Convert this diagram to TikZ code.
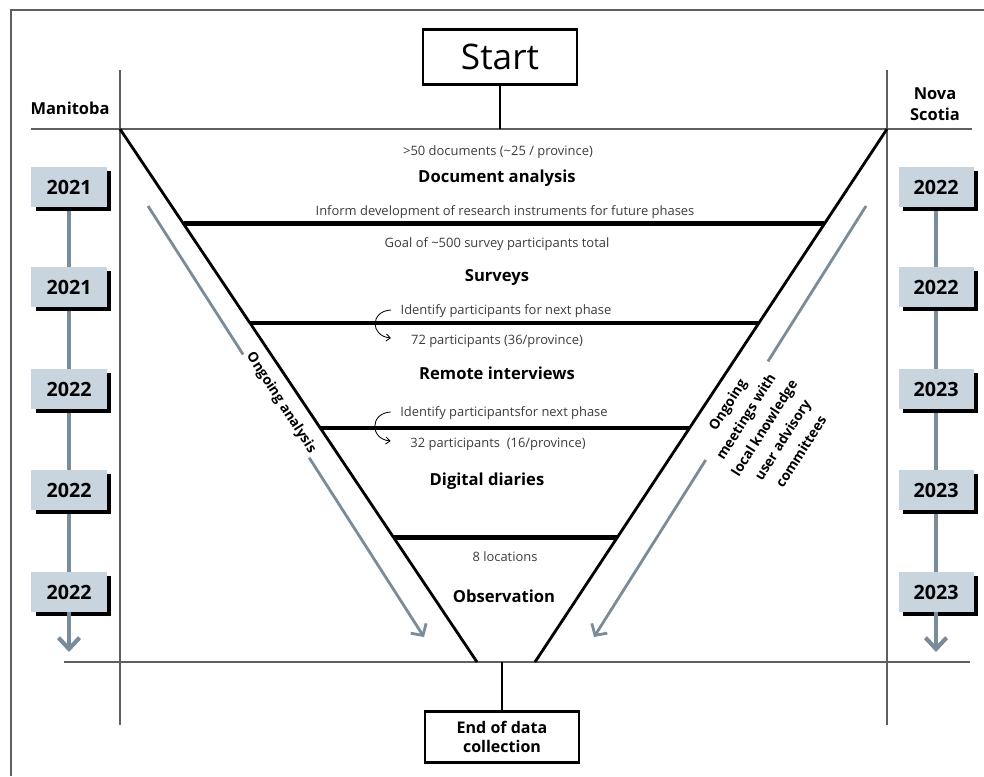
\documentclass[tikz,border=0pt]{standalone}
\usepackage{fontspec}
\setmainfont{Open Sans}
\usepackage{xcolor}
\usepackage{tikz}
\usetikzlibrary{arrows.meta,positioning,shadows,calc,backgrounds}
\definecolor{railgray}{RGB}{122,140,153}
\definecolor{yearfill}{RGB}{200,212,222}
\definecolor{rulegray}{RGB}{95,95,95}
\definecolor{notegray}{RGB}{60,60,60}

\begin{document}
\begin{tikzpicture}[
  x=0.025cm, y=-0.025cm,
  note/.style={font=\fontsize{9.2}{11}\selectfont, text=notegray, inner sep=1pt},
  phase/.style={font=\bfseries\fontsize{11.8}{14}\selectfont, inner sep=1pt},
  head/.style={font=\bfseries\fontsize{11.7}{15}\selectfont, align=center},
  yearbox/.style={fill=yearfill, minimum width=1.875cm, minimum height=1cm, inner sep=0pt,
    font=\bfseries\fontsize{14}{16}\selectfont,
    drop shadow={shadow xshift=3pt, shadow yshift=-3pt, fill=black, opacity=1}},
  termbox/.style={draw=black, line width=1.5pt, fill=white, minimum width=3.85cm, align=center, inner sep=2pt},
  lab/.style={font=\bfseries\fontsize{9.8}{15.5}\selectfont, fill=white, align=center, inner sep=2pt},
  grid/.style={rulegray, line width=1pt},
  edge/.style={black, line width=2pt},
  divider/.style={black, line width=3.5pt},
  stem/.style={black, line width=1.5pt},
  railline/.style={railgray, line width=3pt},
  flow/.style={railgray, line width=2pt, -{Straight Barb[length=6pt, width=13pt]}},
  hook/.style={black, line width=0.6pt, -{Straight Barb[length=3pt, width=5pt]}},
]
\useasboundingbox (0,0) rectangle (984,776);
% frame and grid
\draw[grid] (11,776) |- (984,10);
\coordinate (tl) at (120,129);
\coordinate (tr) at (887,129);
\coordinate (bl) at (477,662);
\coordinate (br) at (535,662);
\draw[grid] (31,129) -- (972,129);
\draw[grid] (64,662) -- (970,662);
\draw[grid] (120,70) -- (120,725);
\draw[grid] (887,70) -- (887,725);
% provinces
\node[head] (mani) at (70,108) {Manitoba};
\node[head] (nova) at (935,104) {Nova\\Scotia};
% timelines
\foreach \i/\yy/\my/\ny in {1/187/2021/2022, 2/287/2021/2022, 3/389/2022/2023, 4/490/2022/2023, 5/592/2022/2023}{
  \node[yearbox] (mb\i) at (69,\yy) {\my};
  \node[yearbox] (ns\i) at (936,\yy) {\ny};
}
\coordinate (mend) at (69,652);
\coordinate (nend) at (936,652);
\begin{scope}[on background layer]
  \draw[railline] (mb1) -- (mb5);
  \draw[railline] (ns1) -- (ns5);
\end{scope}
\draw[railline, -{Straight Barb[length=8pt, width=15pt]}] (mb5.south) -- (mend);
\draw[railline, -{Straight Barb[length=8pt, width=15pt]}] (ns5.south) -- (nend);
% ongoing work along the funnel
\coordinate (la1) at (148,206);
\coordinate (la2) at (424,637);
\coordinate (ra1) at (866,206);
\coordinate (ra2) at (594,637);
\draw[flow] (la1) -- (la2);
\draw[flow] (ra1) -- (ra2);
\node[lab, rotate=-57.3] (ongo) at (281,403) {Ongoing analysis};
\node[lab, rotate=57.6] (meet) at (764,428) {Ongoing\\meetings with\\local knowledge\\user advisory\\committees};
% funnel
\draw[edge] (tl) -- (bl);
\draw[edge] (tr) -- (br);
\foreach \f in {0.178,0.364,0.561,0.767}
  \draw[divider] ($(tl)!\f!(bl)$) -- ($(tr)!\f!(br)$);
% start and end
\node[termbox, minimum height=1.375cm, font=\fontsize{25}{27}\selectfont] (start) at (500,57) {Start};
\node[termbox, minimum height=1.275cm, font=\bfseries\fontsize{11.4}{14}\selectfont] (finish) at (502,737) {End of data\\collection};
\draw[stem] (start.south) -- (start.south |- tl);
\draw[stem] (finish.north) -- (finish.north |- bl);
% phases
\node[note] (docs) at (498,152) {>50 documents (\textasciitilde25 / province)};
\node[phase] (docan) at (497,178) {Document analysis};
\node[note] (inform) at (505,212) {Inform development of research instruments for future phases};
\node[note] (goal) at (497,244) {Goal of \textasciitilde500 survey participants total};
\node[phase] (surv) at (497,277) {Surveys};
\node[note] (idA) at (506,311) {Identify participants for next phase};
\node[note] (partA) at (497,341) {72 participants (36/province)};
\node[phase] (remote) at (497,373) {Remote interviews};
\node[note] (idB) at (504,413) {Identify participantsfor next phase};
\node[note] (partB) at (498,444) {32 participants\ \ (16/province)};
\node[phase] (diary) at (487,481) {Digital diaries};
\node[note] (locs) at (505,557) {8 locations};
\node[phase] (obs) at (504,596) {Observation};
% hand-offs
\coordinate (hA1) at ($(idA.west)+(-8,-1)$);
\coordinate (hA2) at ($(hA1 |- partA.west)+(0,-3)$);
\draw[hook] (hA1) .. controls +(-21,1) and +(-21,-2) .. (hA2);
\coordinate (hB1) at ($(idB.west)+(-8,-1)$);
\coordinate (hB2) at ($(hB1 |- partB.west)+(0,-3)$);
\draw[hook] (hB1) .. controls +(-21,1) and +(-21,-2) .. (hB2);
\end{tikzpicture}
\end{document}
